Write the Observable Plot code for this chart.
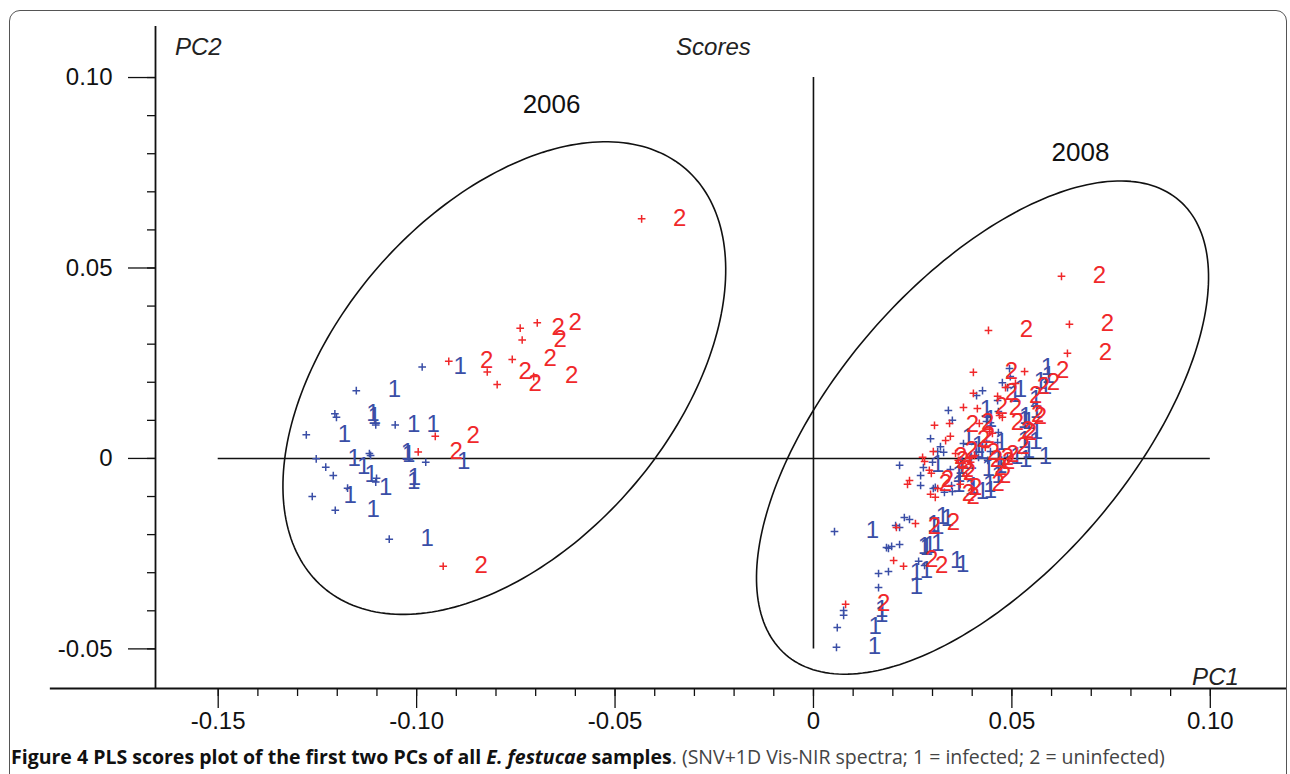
<!DOCTYPE html>
<html><head><meta charset="utf-8">
<script src="https://cdn.jsdelivr.net/npm/d3@7"></script>
<script src="https://cdn.jsdelivr.net/npm/@observablehq/plot@0.6"></script>
<style>
html,body{margin:0;padding:0;background:#fff;}
#wrap{position:relative;width:1290px;height:774px;overflow:hidden;}
#frame{position:absolute;left:9px;top:10px;width:1278px;height:820px;border:1.5px solid #555;border-radius:11px;box-sizing:border-box;}
#chart{position:absolute;left:0;top:0;}
#caption{position:absolute;left:11px;top:743px;font-family:"Open Sans",sans-serif;font-size:19.5px;white-space:nowrap;color:#444;}
#caption b{color:#111;}
</style></head>
<body>
<div id="wrap"><div id="frame"></div><div id="chart"></div>
<div id="caption"><b>Figure 4 PLS scores plot of the first two PCs of all <i>E. festucae</i> samples</b>. (SNV+1D Vis-NIR spectra; 1 = infected; 2 = uninfected)</div>
</div>
<script>
// ---- data (PC1, PC2 scores) ----
const pc1_2006_infected = [-0.0986,-0.1152,-0.1206,-0.1202,-0.1103,-0.1054,-0.1278,-0.1253,-0.1229,-0.1210,-0.1116,-0.1119,-0.1101,-0.1103,-0.1174,-0.1263,-0.1205,-0.1069,-0.0977];
const pc2_2006_infected = [0.0240,0.0178,0.0117,0.0108,0.0088,0.0088,0.0062,-0.0001,-0.0023,-0.0045,0.0008,0.0013,-0.0052,-0.0062,-0.0078,-0.0100,-0.0136,-0.0212,-0.0010];

const pc1_2006_uninfected = [-0.0433,-0.0696,-0.0739,-0.0734,-0.0759,-0.0919,-0.0822,-0.0797,-0.0705,-0.0953,-0.0996,-0.0933];
const pc2_2006_uninfected = [0.0629,0.0356,0.0342,0.0311,0.0260,0.0255,0.0227,0.0194,0.0215,0.0058,0.0017,-0.0283];

const pc1_2008_infected = [0.0496,0.0426,0.0411,0.0340,0.0350,0.0489,0.0464,0.0439,0.0295,0.0320,0.0313,0.0328,0.0217,0.0300,0.0270,0.0270,0.0302,0.0345,0.0464,0.0466,0.0446,0.0378,0.0416,0.0370,0.0439,0.0489,0.0277,0.0242,0.0217,0.0184,0.0189,0.0197,0.0217,0.0164,0.0189,0.0164,0.0280,0.0076,0.0076,0.0060,0.0058,0.0053,0.0307,0.0350,0.0229,0.0207,0.0265,0.0436,0.0446,0.0376,0.0370,0.0348,0.0476,0.0466,0.0436,0.0330,0.0494];
const pc2_2008_infected = [0.0215,0.0178,0.0165,0.0126,0.0100,0.0186,0.0152,0.0108,0.0052,0.0031,0.0018,0.0016,-0.0018,-0.0010,-0.0045,-0.0071,-0.0079,-0.0029,0.0042,0.0068,0.0094,0.0039,0.0003,-0.0005,-0.0005,0.0003,-0.0024,-0.0160,-0.0181,-0.0234,-0.0236,-0.0231,-0.0226,-0.0302,-0.0297,-0.0339,-0.0281,-0.0399,-0.0412,-0.0444,-0.0496,-0.0192,-0.0076,-0.0087,-0.0155,-0.0176,-0.0270,0.0045,0.0018,-0.0021,-0.0047,-0.0071,0.0199,0.0123,0.0097,-0.0089,0.0236];

const pc1_2008_uninfected = [0.0625,0.0645,0.0441,0.0640,0.0403,0.0532,0.0403,0.0464,0.0378,0.0305,0.0343,0.0484,0.0509,0.0476,0.0413,0.0345,0.0333,0.0302,0.0280,0.0292,0.0297,0.0237,0.0295,0.0313,0.0209,0.0257,0.0202,0.0227,0.0081,0.0358,0.0406,0.0418,0.0469,0.0451,0.0433,0.0275,0.0307,0.0242,0.0365,0.0376,0.0386,0.0370,0.0396,0.0444,0.0393];
const pc2_2008_uninfected = [0.0478,0.0352,0.0336,0.0276,0.0226,0.0228,0.0171,0.0163,0.0134,0.0087,0.0092,0.0186,0.0197,0.0108,0.0131,0.0058,0.0047,0.0018,-0.0008,-0.0031,-0.0039,-0.0068,-0.0094,-0.0079,-0.0181,-0.0171,-0.0268,-0.0283,-0.0383,0.0013,0.0008,0.0092,0.0113,0.0066,0.0029,0.0003,-0.0102,-0.0058,-0.0005,-0.0026,-0.0047,-0.0068,-0.0010,0.0071,0.0000];

// group ellipses (centre and conjugate semi-axes, in score units)
const ellipseName = ["2006", "2008"];
const ellipseCx = [-0.0779, 0.0426];
const ellipseCy = [0.0211, 0.0081];
const ellipseUx = [0.0457, 0.0496];
const ellipseUy = [0.0549, 0.0596];
const ellipseVx = [-0.0320, -0.0280];
const ellipseVy = [0.0289, 0.0253];

// axis ticks
const xMajorTicks = [-0.15, -0.10, -0.05, 0, 0.05, 0.10];
const yMajorTicks = [-0.05, 0, 0.05, 0.10];
const xMinorTicks = [-0.15,-0.14,-0.13,-0.12,-0.11,-0.10,-0.09,-0.08,-0.07,-0.06,-0.05,-0.04,-0.03,-0.02,-0.01,0,0.01,0.02,0.03,0.04,0.05,0.06,0.07,0.08,0.09,0.10];
const yMinorTicks = [-0.05,-0.04,-0.03,-0.02,-0.01,0,0.01,0.02,0.03,0.04,0.05,0.06,0.07,0.08,0.09,0.10];

// axis extents (score units)
const xAxisAt = -0.1658, xEnd = 0.1192, xAxisLineStart = -0.1923;
const yAxisAt = -0.0604, yEnd = 0.1134;

// annotations
const annText = ["Scores", "PC2", "PC1"];
const annX = [-0.0252, -0.1550, 0.1013];
const annY = [0.1079, 0.1079, -0.0575];
const yearText = ["2006", "2008"];
const yearX = [-0.0660, 0.0673];
const yearY = [0.0929, 0.0803];

// ---- build tables ----
const BLUE = "#3a4ea6", RED = "#f0282a";
const toRows = (xs, ys, label) => xs.map((x, i) => ({pc1: x, pc2: ys[i], label}));
const infected = [...toRows(pc1_2006_infected, pc2_2006_infected, "1"), ...toRows(pc1_2008_infected, pc2_2008_infected, "1")];
const uninfected = [...toRows(pc1_2006_uninfected, pc2_2006_uninfected, "2"), ...toRows(pc1_2008_uninfected, pc2_2008_uninfected, "2")];

const ellipsePts = [];
ellipseName.forEach((name, k) => {
  for (let i = 0; i < 240; i++) {
    const t = (i / 240) * 2 * Math.PI;
    ellipsePts.push({name,
      x: ellipseCx[k] + ellipseUx[k] * Math.cos(t) + ellipseVx[k] * Math.sin(t),
      y: ellipseCy[k] + ellipseUy[k] * Math.cos(t) + ellipseVy[k] * Math.sin(t)});
  }
});
const ann = annText.map((t, i) => ({t, x: annX[i], y: annY[i]}));
const years = yearText.map((t, i) => ({t, x: yearX[i], y: yearY[i]}));

const fmt = d => d === 0 ? "0" : d.toFixed(2);

const plot = Plot.plot({
  width: 1290, height: 742,
  marginLeft: 155, marginRight: 4, marginTop: 26, marginBottom: 54,
  x: {domain: [xAxisAt, xEnd], label: null},
  y: {domain: [yAxisAt, yEnd], label: null},
  style: {fontFamily: "'Liberation Sans', Arial, sans-serif", fontSize: "24px", background: "transparent", overflow: "visible", color: "#111"},
  marks: [
    Plot.line(ellipsePts, {x: "x", y: "y", z: "name", curve: "linear-closed", stroke: "#111", strokeWidth: 1.6}),
    Plot.ruleY([0], {x1: -0.15, x2: 0.10, stroke: "#111", strokeWidth: 1.6}),
    Plot.ruleX([0], {y1: -0.05, y2: 0.10, stroke: "#111", strokeWidth: 1.6}),
    Plot.ruleY([yAxisAt], {x1: xAxisLineStart, x2: xEnd, stroke: "#111", strokeWidth: 1.8}),
    Plot.ruleX([xAxisAt], {y1: yAxisAt, y2: yEnd, stroke: "#111", strokeWidth: 1.8}),
    Plot.axisX({ticks: xMajorTicks, tickSize: 20, tickPadding: 3, tickFormat: fmt, label: null, fontSize: 24, strokeWidth: 1.3}),
    Plot.axisX({ticks: xMinorTicks, tickSize: 8, tickFormat: () => "", label: null, strokeWidth: 1.3}),
    Plot.axisY({ticks: yMajorTicks, tickSize: 27, tickPadding: 16, tickFormat: fmt, label: null, fontSize: 24, strokeWidth: 1.3}),
    Plot.axisY({ticks: yMinorTicks, tickSize: 8, tickFormat: () => "", label: null, strokeWidth: 1.3}),
    Plot.dot(infected, {x: "pc1", y: "pc2", symbol: "plus", r: 2.6, stroke: BLUE, strokeWidth: 1.5}),
    Plot.text(infected, {x: "pc1", y: "pc2", text: "label", dx: 38, dy: -1, fill: BLUE, fontSize: 24}),
    Plot.dot(uninfected, {x: "pc1", y: "pc2", symbol: "plus", r: 2.6, stroke: RED, strokeWidth: 1.5}),
    Plot.text(uninfected, {x: "pc1", y: "pc2", text: "label", dx: 38, dy: -1, fill: RED, fontSize: 24}),
    Plot.text(ann, {x: "x", y: "y", text: "t", fontStyle: "italic", fontSize: 24, fill: "#222"}),
    Plot.text(years, {x: "x", y: "y", text: "t", fontSize: 26, fill: "#111"})
  ]
});
document.getElementById("chart").appendChild(plot);
</script>
</body></html>
